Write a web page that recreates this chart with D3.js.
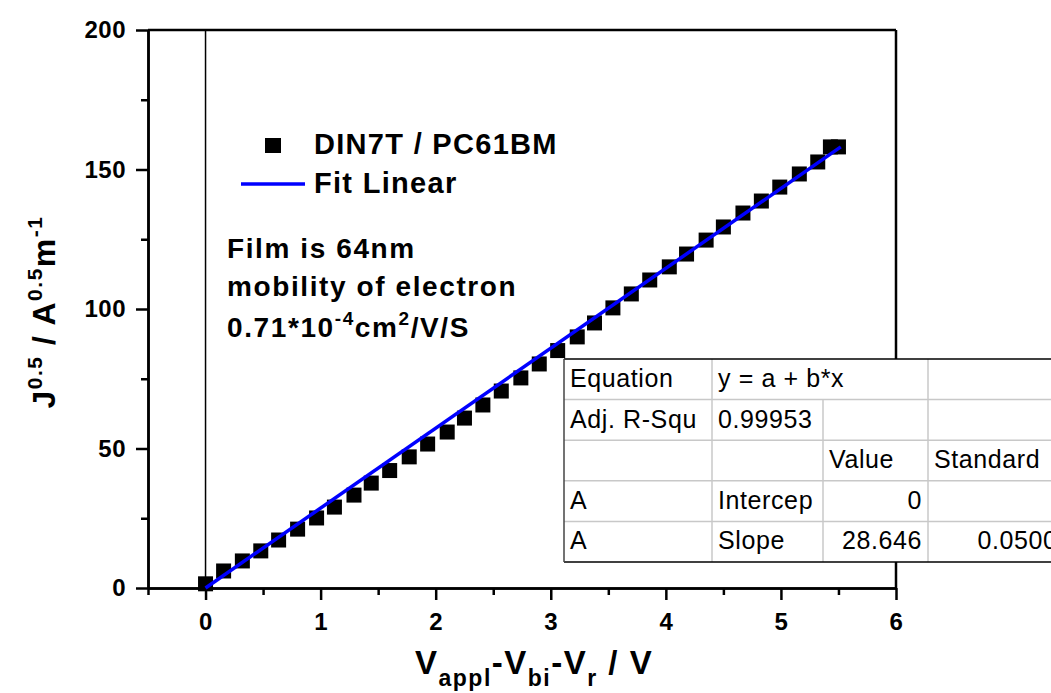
<!DOCTYPE html>
<html>
<head>
<meta charset="utf-8">
<script src="https://cdn.jsdelivr.net/npm/d3@7"></script>
<style>
  body { margin: 0; background: #fff; }
  svg { display: block; font-family: "Liberation Sans", Arial, sans-serif; }
</style>
</head>
<body>
<div id="chart"></div>
<script>
// measured points, V_appl - V_bi - V_r (V) vs J^0.5
var voltage = [0, 0.157, 0.32, 0.48, 0.635, 0.80, 0.965, 1.12, 1.29, 1.44, 1.60, 1.77,
  1.93, 2.10, 2.25, 2.41, 2.57, 2.74, 2.90, 3.06, 3.23, 3.38, 3.54, 3.70, 3.86, 4.03,
  4.18, 4.35, 4.50, 4.67, 4.83, 4.99, 5.16, 5.32, 5.43, 5.50];
var sqrtJ = [1.5, 6.1, 9.7, 13.3, 17.2, 21.1, 25.1, 29.0, 33.3, 37.6, 42.1, 47.0,
  51.6, 55.9, 60.9, 65.6, 70.6, 75.3, 80.3, 85.1, 90.0, 95.0, 100.4, 105.4, 110.4, 115.1,
  119.7, 124.7, 129.4, 134.4, 138.7, 143.7, 148.4, 152.7, 158.1, 158.1];

// linear fit from the table
var fitIntercept = 0;
var fitSlope = 28.646;
var fitRange = [0, 5.52];

var xTicks = [0, 1, 2, 3, 4, 5, 6];
var xMinorTicks = [-0.5, 0.5, 1.5, 2.5, 3.5, 4.5, 5.5];
var yTicks = [0, 50, 100, 150, 200];
var yMinorTicks = [25, 75, 125, 175];

var tableRows = [
  ["Equation", "y = a + b*x", "", ""],
  ["Adj. R-Squ", "0.99953", "", ""],
  ["", "", "Value", "Standard"],
  ["A", "Intercep", "0", ""],
  ["A", "Slope", "28.646", "0.05006"]
];

(function () {
  var W = 1051, H = 693;
  var pLeft = 148, pRight = 896, pTop = 30, pBottom = 588;

  var svg = d3.select("#chart").append("svg")
    .attr("width", W)
    .attr("height", H);

  var x = d3.scaleLinear().domain([-0.5, 6]).range([pLeft, pRight]);
  var y = d3.scaleLinear().domain([0, 200]).range([pBottom, pTop]);

  // frame: top and right
  svg.append("line")
    .attr("x1", pLeft).attr("x2", pRight).attr("y1", pTop).attr("y2", pTop)
    .attr("stroke", "#000").attr("stroke-width", 2.5);
  svg.append("line")
    .attr("x1", pRight).attr("x2", pRight).attr("y1", pTop).attr("y2", pBottom)
    .attr("stroke", "#000").attr("stroke-width", 2.5);

  // zero line
  svg.append("line")
    .attr("x1", x(0)).attr("x2", x(0)).attr("y1", pTop).attr("y2", pBottom)
    .attr("stroke", "#000").attr("stroke-width", 1.5);

  function styleAxis(g) {
    g.select(".domain").attr("stroke-width", 2.5);
    g.selectAll(".tick line").attr("stroke-width", 2.5);
    g.selectAll(".tick text")
      .attr("font-size", 24)
      .attr("font-weight", "bold")
      .attr("fill", "#000")
      .style("letter-spacing", "0.5px");
  }

  // minor ticks
  svg.append("g")
    .attr("transform", "translate(0," + pBottom + ")")
    .call(d3.axisBottom(x).tickValues(xMinorTicks).tickSize(7).tickFormat("").tickSizeOuter(0))
    .call(styleAxis);
  svg.append("g")
    .attr("transform", "translate(" + pLeft + ",0)")
    .call(d3.axisLeft(y).tickValues(yMinorTicks).tickSize(7).tickFormat("").tickSizeOuter(0))
    .call(styleAxis);

  // major ticks
  svg.append("g")
    .attr("transform", "translate(0," + pBottom + ")")
    .call(d3.axisBottom(x).tickValues(xTicks).tickFormat(d3.format("d"))
      .tickSize(12).tickPadding(13).tickSizeOuter(0))
    .call(styleAxis);
  svg.append("g")
    .attr("transform", "translate(" + pLeft + ",0)")
    .call(d3.axisLeft(y).tickValues(yTicks).tickFormat(d3.format("d"))
      .tickSize(12).tickPadding(10).tickSizeOuter(0))
    .call(styleAxis);

  // data squares
  var sq = 15;
  svg.append("g").selectAll("rect")
    .data(voltage)
    .enter().append("rect")
    .attr("x", function (d) { return x(d) - sq / 2; })
    .attr("y", function (d, i) { return y(sqrtJ[i]) - sq / 2; })
    .attr("width", sq)
    .attr("height", sq)
    .attr("fill", "#000");

  // fit line
  var line = d3.line()
    .x(function (d) { return x(d); })
    .y(function (d) { return y(fitIntercept + fitSlope * d); });
  svg.append("path")
    .datum(fitRange)
    .attr("d", line)
    .attr("fill", "none")
    .attr("stroke", "#0000ff")
    .attr("stroke-width", 3.5);

  // legend
  svg.append("rect")
    .attr("x", 265).attr("y", 138).attr("width", 16).attr("height", 15)
    .attr("fill", "#000");
  svg.append("line")
    .attr("x1", 241).attr("x2", 305).attr("y1", 184).attr("y2", 184)
    .attr("stroke", "#0000ff").attr("stroke-width", 3.5);
  var legendText = svg.append("g")
    .attr("font-size", 29).attr("font-weight", "bold")
    .style("letter-spacing", "1.3px");
  legendText.append("text").attr("x", 314).attr("y", 154).text("DIN7T / PC61BM");
  legendText.append("text").attr("x", 314).attr("y", 193).text("Fit Linear");

  // annotation
  var note = svg.append("g")
    .attr("font-size", 28).attr("font-weight", "bold")
    .style("letter-spacing", "1.6px");
  note.append("text").attr("x", 227).attr("y", 258).text("Film is 64nm");
  note.append("text").attr("x", 227).attr("y", 296).text("mobility of electron");
  var n3 = note.append("text").attr("x", 227).attr("y", 337);
  n3.append("tspan").text("0.71*10");
  n3.append("tspan").attr("font-size", 19).attr("dy", -12).text("-4");
  n3.append("tspan").attr("dy", 12).text("cm");
  n3.append("tspan").attr("font-size", 19).attr("dy", -12).text("2");
  n3.append("tspan").attr("dy", 12).text("/V/S");

  // x axis title
  var xt = svg.append("text")
    .attr("x", 415).attr("y", 674)
    .attr("font-size", 33).attr("font-weight", "bold")
    .style("letter-spacing", "1.5px");
  xt.append("tspan").text("V");
  xt.append("tspan").attr("font-size", 23).attr("dy", 12).text("appl");
  xt.append("tspan").attr("dy", -12).text("-V");
  xt.append("tspan").attr("font-size", 23).attr("dy", 12).text("bi");
  xt.append("tspan").attr("dy", -12).text("-V");
  xt.append("tspan").attr("font-size", 23).attr("dy", 12).text("r");
  xt.append("tspan").attr("dy", -12).text(" / V");

  // y axis title
  var yt = svg.append("text")
    .attr("transform", "translate(55,312) rotate(-90)")
    .attr("text-anchor", "middle")
    .attr("font-size", 32).attr("font-weight", "bold")
    .style("letter-spacing", "1.5px");
  yt.append("tspan").text("J");
  yt.append("tspan").attr("font-size", 21).attr("dy", -13).text("0.5");
  yt.append("tspan").attr("dy", 13).text(" / A");
  yt.append("tspan").attr("font-size", 21).attr("dy", -13).text("0.5");
  yt.append("tspan").attr("dy", 13).text("m");
  yt.append("tspan").attr("font-size", 21).attr("dy", -13).text("-1");

  // fit result table
  var tableX = 564, tableY = 359;
  var colW = [148, 111, 105, 150];
  var rowH = 40.6;
  var colX = [tableX];
  colW.forEach(function (w, i) { colX.push(colX[i] + w); });
  var tableW = d3.sum(colW), tableH = rowH * tableRows.length;

  var tg = svg.append("g");
  tg.append("rect")
    .attr("x", tableX).attr("y", tableY).attr("width", tableW).attr("height", tableH)
    .attr("fill", "#fff");
  // horizontal grid
  d3.range(1, tableRows.length).forEach(function (r) {
    tg.append("line")
      .attr("x1", tableX).attr("x2", tableX + tableW)
      .attr("y1", tableY + r * rowH).attr("y2", tableY + r * rowH)
      .attr("stroke", "#c8c8c8").attr("stroke-width", 1.5);
  });
  // vertical grid (equation spans columns 2-3 in the first row)
  d3.range(1, colW.length).forEach(function (c) {
    var y0 = (c === 2) ? tableY + rowH : tableY;
    tg.append("line")
      .attr("x1", colX[c]).attr("x2", colX[c])
      .attr("y1", y0).attr("y2", tableY + tableH)
      .attr("stroke", "#c8c8c8").attr("stroke-width", 1.5);
  });
  // outer border
  tg.append("line").attr("x1", tableX).attr("x2", tableX + tableW)
    .attr("y1", tableY).attr("y2", tableY).attr("stroke", "#000").attr("stroke-width", 1.5);
  tg.append("line").attr("x1", tableX).attr("x2", tableX + tableW)
    .attr("y1", tableY + tableH).attr("y2", tableY + tableH).attr("stroke", "#000").attr("stroke-width", 1.5);
  tg.append("line").attr("x1", tableX).attr("x2", tableX)
    .attr("y1", tableY).attr("y2", tableY + tableH).attr("stroke", "#444").attr("stroke-width", 1.5);

  tableRows.forEach(function (row, r) {
    row.forEach(function (cell, c) {
      if (!cell) return;
      var numeric = r >= 3 && c >= 2;
      tg.append("text")
        .attr("x", numeric ? colX[c + 1] - 6 : colX[c] + 6)
        .attr("y", tableY + r * rowH + 28)
        .attr("text-anchor", numeric ? "end" : "start")
        .attr("font-size", 25)
        .style("letter-spacing", "0.6px")
        .attr("fill", "#000")
        .text(cell);
    });
  });
})();
</script>
</body>
</html>
